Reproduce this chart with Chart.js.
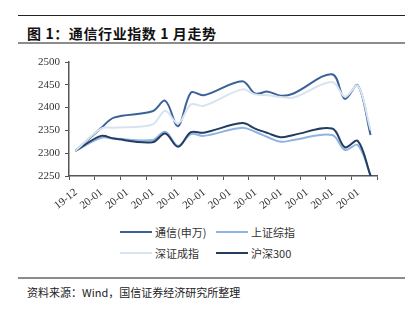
<!DOCTYPE html>
<html>
<head>
<meta charset="utf-8">
<script src="https://cdn.jsdelivr.net/npm/chart.js@4.4.1/dist/chart.umd.min.js"></script>
<style>
  body { margin: 0; background: #fff; }
  #wrap { position: relative; width: 418px; height: 325px; overflow: hidden; background: #fff;
          font-family: "Noto Sans CJK SC", "Noto Sans", sans-serif; color: #222; }
  .rule { position: absolute; left: 18px; width: 387px; }
  #title { position: absolute; left: 27px; top: 23px; font-size: 14px; font-weight: bold; color: #111; letter-spacing: 0.6px; }
  #box { position: absolute; left: 0; top: 50px; width: 418px; height: 166px; }
  #legend { position: absolute; left: 120px; top: 221px; display: grid; grid-template-columns: 96px 96px; row-gap: 0; }
  #legend div { height: 21px; display: flex; align-items: center; font-size: 11px; color: #333; }
  #legend span.sw { display: inline-block; width: 32px; height: 2px; margin-right: 3px; }
  #source { position: absolute; left: 27px; top: 284px; font-size: 11px; color: #222; }
</style>
</head>
<body>
<div id="wrap">
  <div class="rule" style="top:15px;height:1px;background:#222;"></div>
  <div id="title">图 1：通信行业指数 1 月走势</div>
  <div class="rule" style="top:42px;height:2px;background:#8c8c8c;"></div>
  <div id="box"><canvas id="chart" width="418" height="166"></canvas></div>
  <div id="legend"></div>
  <div class="rule" style="top:277px;height:2px;background:#8c8c8c;"></div>
  <div id="source">资料来源：Wind，国信证券经济研究所整理</div>
</div>
<script>
// 交易日 (2019-12-31 ~ 2020-01-23)
var tradingDays = ['2019-12-31', '2020-01-02', '2020-01-03', '2020-01-06', '2020-01-07', '2020-01-08',
  '2020-01-09', '2020-01-10', '2020-01-13', '2020-01-14', '2020-01-15', '2020-01-16', '2020-01-17',
  '2020-01-20', '2020-01-21', '2020-01-22', '2020-01-23'];

var seriesNames = ['通信(申万)', '上证综指', '深证成指', '沪深300'];
var tongxin = [2305, 2355, 2378, 2392, 2415, 2359, 2433, 2427, 2458, 2431, 2435, 2426, 2431, 2473, 2419, 2449, 2340];
var shangzheng = [2305, 2334, 2332, 2329, 2347, 2316, 2342, 2338, 2356, 2347, 2335, 2325, 2329, 2340, 2307, 2318, 2252];
var shenzheng = [2305, 2354, 2356, 2363, 2393, 2365, 2407, 2404, 2440, 2429, 2427, 2423, 2422, 2456, 2424, 2448, 2351];
var hs300 = [2305, 2338, 2332, 2324, 2343, 2314, 2346, 2345, 2366, 2354, 2344, 2335, 2340, 2354, 2313, 2327, 2250];

// 横轴标签 (每两天一个)
var tickLabels = ['19-12', '20-01', '20-01', '20-01', '20-01', '20-01', '20-01', '20-01', '20-01', '20-01', '20-01', '20-01'];
var yMin = 2250, yMax = 2500, yStep = 50;

var colors = ['#3a6297', '#8fb4e3', '#d8e3f1', '#233d60'];
var allSeries = [tongxin, shangzheng, shenzheng, hs300];

// 日期 -> 距 12-31 的天数
var base = new Date(tradingDays[0]).getTime();
var dayIdx = tradingDays.map(function (d) { return (new Date(d).getTime() - base) / 86400000; });

var datasets = allSeries.map(function (vals, s) {
  return {
    label: seriesNames[s],
    data: vals.map(function (v, i) { return { x: dayIdx[i], y: v }; }),
    borderColor: colors[s],
    backgroundColor: colors[s],
    borderWidth: 2,
    pointRadius: 0,
    tension: 0.35
  };
});
// 画的顺序: 深证成指在最下
var drawOrder = [1, 3, 0, 2];
datasets.forEach(function (d, i) { d.order = drawOrder[i]; });

var axisColor = '#555';
var tickFont = { family: '"Liberation Serif", "Times New Roman", serif', size: 11 };

new Chart(document.getElementById('chart'), {
  type: 'line',
  data: { datasets: datasets },
  options: {
    responsive: false,
    animation: false,
    maintainAspectRatio: false,
    layout: { padding: { top: 12, right: 41, left: 0, bottom: 0 } },
    plugins: { legend: { display: false }, tooltip: { enabled: false } },
    scales: {
      x: {
        type: 'linear',
        min: -0.5,
        max: dayIdx[dayIdx.length - 1] + 0.5,
        afterBuildTicks: function (scale) {
          var t = [];
          for (var k = 0; k <= tickLabels.length; k++) t.push({ value: -0.5 + 2 * k });
          scale.ticks = t;
        },
        afterFit: function (scale) { scale.height = 40; },
        border: { color: axisColor, width: 1.5 },
        grid: { drawOnChartArea: false, color: axisColor, tickLength: 4, tickWidth: 1 },
        ticks: {
          autoSkip: false,
          minRotation: 38,
          maxRotation: 38,
          labelOffset: 7,
          padding: 6,
          color: '#333',
          font: tickFont,
          callback: function (v, i) { return tickLabels[i] || ''; }
        }
      },
      y: {
        min: yMin,
        max: yMax,
        afterFit: function (scale) { scale.width = 69; },
        border: { color: axisColor, width: 1.5 },
        grid: { drawOnChartArea: false, color: axisColor, tickLength: 4, tickWidth: 1 },
        ticks: { stepSize: yStep, padding: 5, color: '#333', font: tickFont,
          callback: function (v) { return String(v); } }
      }
    }
  }
});

// 图例 (两列)
var legend = document.getElementById('legend');
seriesNames.forEach(function (name, s) {
  var item = document.createElement('div');
  item.innerHTML = '<span class="sw" style="background:' + colors[s] + '"></span>' + name;
  legend.appendChild(item);
});
</script>
</body>
</html>
